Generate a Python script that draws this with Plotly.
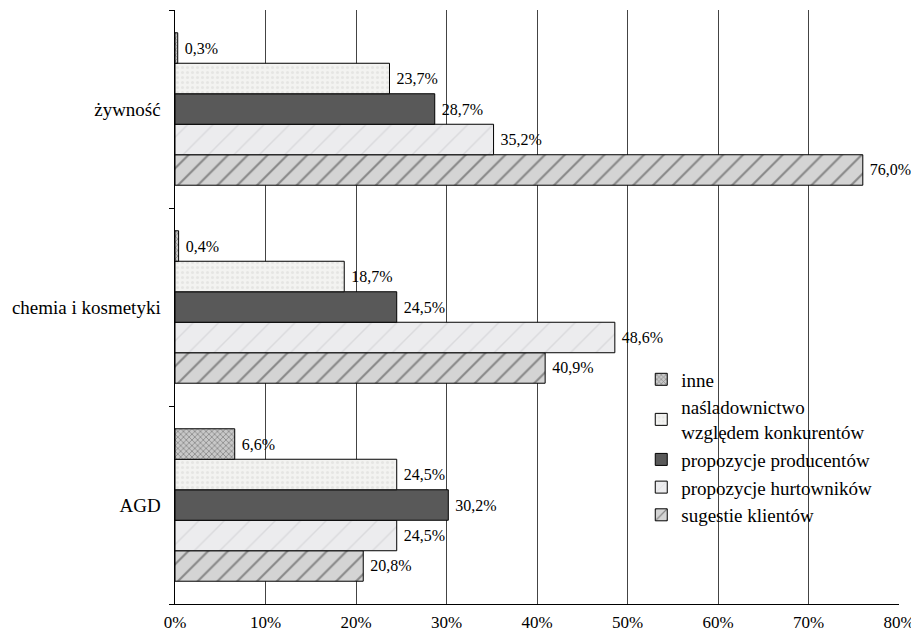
import plotly.graph_objects as go

categories = ["AGD", "chemia i kosmetyki", "żywność"]
series_names = ["sugestie klientów", "propozycje hurtowników", "propozycje producentów",
                "naśladownictwo<br>względem konkurentów", "inne"]
sugestie = [20.8, 40.9, 76.0]
hurtownikow = [24.5, 48.6, 35.2]
producentow = [30.2, 24.5, 28.7]
nasladownictwo = [24.5, 18.7, 23.7]
inne = [6.6, 0.4, 0.3]
x_ticks = [0, 10, 20, 30, 40, 50, 60, 70, 80]
x_tick_labels = ["0%", "10%", "20%", "30%", "40%", "50%", "60%", "70%", "80%"]

values = [sugestie, hurtownikow, producentow, nasladownictwo, inne]
styles = [
    dict(color="#c4c4c4", pattern=dict(shape="/", fgcolor="#3a3a3a", bgcolor="#d4d4d4", size=14, solidity=0.15)),
    dict(color="#e4e4e6", pattern=dict(shape="/", fgcolor="#c8c8ca", bgcolor="#ececee", size=18, solidity=0.08)),
    dict(color="#595959"),
    dict(color="#f0f0ee", pattern=dict(shape=".", fgcolor="#d8d8d6", bgcolor="#f3f3f1", size=5, solidity=0.3)),
    dict(color="#999999", pattern=dict(shape="x", fgcolor="#555555", bgcolor="#c8c8c8", size=4, solidity=0.4)),
]

FONT = "Times New Roman"

fig = go.Figure()
for name, vals, st in zip(series_names, values, styles):
    marker = dict(line=dict(color="#000000", width=1), **st)
    fig.add_trace(go.Bar(
        y=categories, x=vals, orientation="h", name=name,
        legendgroup=name,
        marker=marker,
        text=["\u00a0" + f"{v:.1f}%".replace(".", ",") for v in vals],
        textposition="outside", cliponaxis=False,
        textfont=dict(family=FONT, size=16, color="#000000"),
    ))

fig.update_layout(
    width=911, height=623,
    margin=dict(l=167, r=20, t=2, b=27),
    paper_bgcolor="white", plot_bgcolor="white",
    barmode="group", bargap=0.23, bargroupgap=0,
    font=dict(family=FONT, size=16, color="#000000"),
    showlegend=True,
    legend=dict(x=0.644, y=0.41, xanchor="left", yanchor="top",
                traceorder="reversed", tracegroupgap=12,
                bgcolor="rgba(0,0,0,0)", font=dict(family=FONT, size=19),
                itemwidth=30),
)
fig.update_xaxes(range=[0, 80], tickmode="array", tickvals=x_ticks, ticktext=x_tick_labels,
                 showgrid=True, gridcolor="#444444", gridwidth=1,
                 showline=True, linecolor="#000000", linewidth=1,
                 ticks="outside", ticklen=3, tickcolor="rgba(0,0,0,0)",
                 tickfont=dict(family=FONT, size=17), zeroline=False, automargin=False)
fig.update_yaxes(showline=True, linecolor="#000000", linewidth=1,
                 ticks="outside", ticklen=5, tickcolor="#000000",
                 tickson="boundaries", showgrid=False, automargin=False,
                 tickfont=dict(family=FONT, size=19), ticksuffix="  ")

fig.write_html("out.html")
